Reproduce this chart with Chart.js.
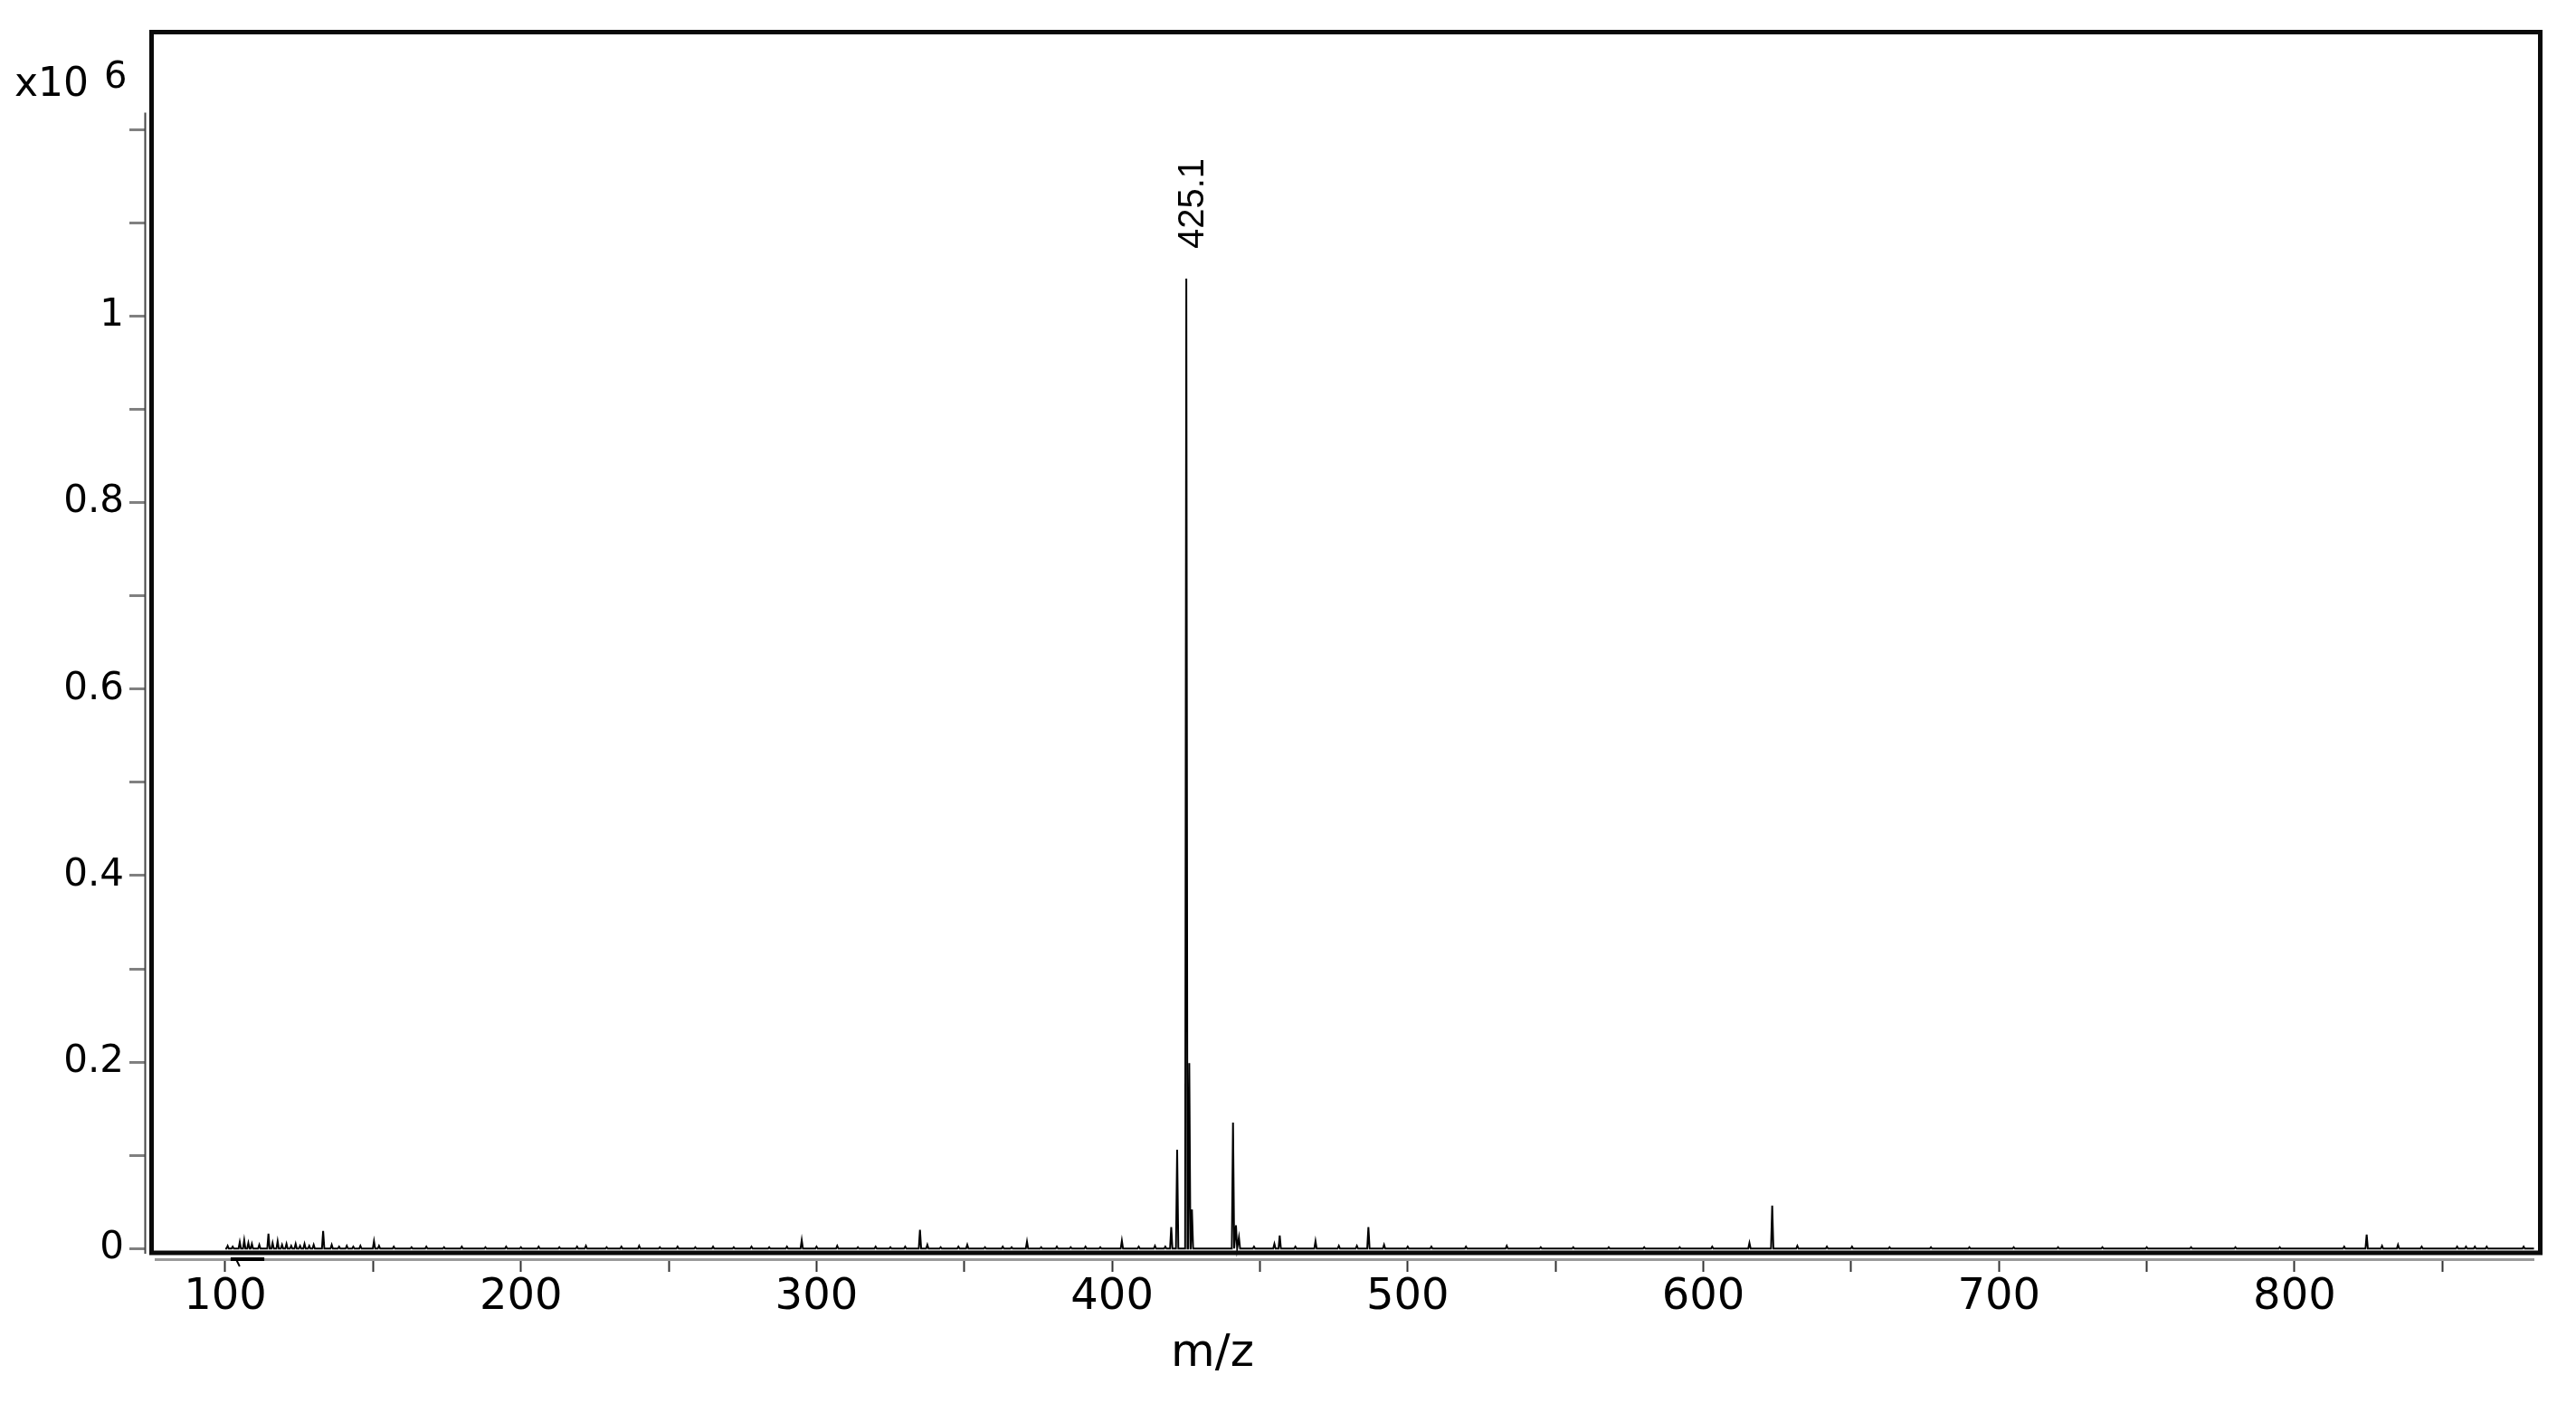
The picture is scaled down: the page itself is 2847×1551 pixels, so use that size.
<!DOCTYPE html>
<html>
<head>
<meta charset="utf-8">
<title>Mass spectrum</title>
<script src="https://cdn.jsdelivr.net/npm/chart.js@4.4.1/dist/chart.umd.min.js"></script>
<style>
  html, body { margin: 0; padding: 0; background: #fff; }
  #wrap { width: 2847px; height: 1551px; }
</style>
</head>
<body>
<div id="wrap"><canvas id="spectrum" width="2847" height="1551"></canvas></div>
<script>
// peaks: m/z and intensity (x10^6 counts)
var peakMz = [
  100.8, 102.5, 104.9, 106.4, 107.8, 109.0, 111.5, 114.6, 116.0, 117.7,
  119.2, 120.7, 122.3, 123.8, 125.3, 126.8, 128.4, 129.9, 133.1, 136.0,
  138.5, 141.1, 143.3, 145.7, 150.3, 152.0, 157, 163, 168, 174,
  180, 188, 195, 200, 206, 213, 219, 222, 229, 234,
  240, 247, 253, 259, 265, 272, 278, 284, 290, 295,
  300, 307, 314, 320, 325, 330, 335, 337.5, 342, 348,
  351, 357, 363, 366, 371.2, 376, 381.3, 386, 391, 396,
  403.3, 409, 414.5, 418, 420.0, 422.0, 425.1, 426.1, 427.0, 440.9,
  441.9, 442.9, 448, 454.9, 456.7, 462, 468.8, 476.7, 482.8, 486.7,
  492.0, 500, 508, 519.7, 533.5, 545, 556, 568, 580, 592,
  603, 615.6, 623.3, 631.8, 641.8, 650.3, 663, 677, 690, 705,
  720, 735, 750, 765, 780, 795, 816.8, 824.4, 829.6, 835.0,
  843.0, 855, 858, 861, 865, 877.5
];
var peakIntensity = [
  0.003, 0.002, 0.007, 0.009, 0.006, 0.005, 0.004, 0.016, 0.006, 0.008,
  0.004, 0.005, 0.003, 0.005, 0.003, 0.005, 0.003, 0.004, 0.019, 0.004,
  0.002, 0.003, 0.002, 0.003, 0.008, 0.003, 0.002, 0.0015, 0.002, 0.0015,
  0.002, 0.0015, 0.002, 0.0015, 0.002, 0.0015, 0.002, 0.003, 0.0015, 0.002,
  0.003, 0.0015, 0.002, 0.0015, 0.002, 0.0015, 0.002, 0.0015, 0.002, 0.009,
  0.002, 0.003, 0.0015, 0.002, 0.0015, 0.002, 0.020, 0.004, 0.0015, 0.002,
  0.004, 0.0015, 0.002, 0.0015, 0.0075, 0.0015, 0.002, 0.0015, 0.002, 0.0015,
  0.0085, 0.002, 0.003, 0.002, 0.023, 0.106, 1.040, 0.199, 0.042, 0.135,
  0.025, 0.012, 0.002, 0.005, 0.014, 0.002, 0.008, 0.003, 0.003, 0.023,
  0.004, 0.002, 0.002, 0.002, 0.003, 0.0015, 0.0015, 0.0015, 0.0015, 0.0015,
  0.002, 0.006, 0.046, 0.003, 0.002, 0.002, 0.0015, 0.0015, 0.0015, 0.0015,
  0.0015, 0.0015, 0.0015, 0.0015, 0.0015, 0.0015, 0.002, 0.015, 0.003, 0.004,
  0.002, 0.002, 0.002, 0.002, 0.002, 0.002
];
var scanRange = [100, 881];

var xTickValues = [100, 150, 200, 250, 300, 350, 400, 450, 500, 550, 600, 650, 700, 750, 800, 850];
var xTickLabels = ['100', '', '200', '', '300', '', '400', '', '500', '', '600', '', '700', '', '800', ''];
var yTickValues = [0, 0.1, 0.2, 0.3, 0.4, 0.5, 0.6, 0.7, 0.8, 0.9, 1.0, 1.1, 1.2];
var yTickLabels = ['0', '', '0.2', '', '0.4', '', '0.6', '', '0.8', '', '1', '', ''];

var xTitle = 'm/z';
var peakLabelMz = 425.1;
var peakLabelText = '425.1';

// profile: each peak as a narrow spike on the baseline
var halfWidth = 0.4;
var order = peakMz.map(function (m, i) { return i; }).sort(function (a, b) { return peakMz[a] - peakMz[b]; });
var points = [{ x: scanRange[0], y: 0 }];
order.forEach(function (i) {
  points.push({ x: peakMz[i] - halfWidth, y: 0 });
  points.push({ x: peakMz[i], y: peakIntensity[i] });
  points.push({ x: peakMz[i] + halfWidth, y: 0 });
});
points.push({ x: scanRange[1], y: 0 });

var font = '"DejaVu Sans", sans-serif';
var narrowFont = '"Liberation Sans", Arial, sans-serif';

// frame, detached axis lines, exponent, axis title and peak annotation
var decorations = {
  id: 'decorations',
  afterDraw: function (chart) {
    var ctx = chart.ctx, a = chart.chartArea;
    var xs = chart.scales.x, ys = chart.scales.y;
    ctx.save();

    // y axis line, starts a bit above the top tick
    ctx.strokeStyle = '#444';
    ctx.lineWidth = 2;
    ctx.beginPath();
    ctx.moveTo(a.left + 0.5, ys.getPixelForValue(1.218));
    ctx.lineTo(a.left + 0.5, a.bottom - 6);
    ctx.stroke();

    // x axis line under the frame
    ctx.strokeStyle = '#999';
    ctx.lineWidth = 3;
    ctx.beginPath();
    ctx.moveTo(a.left + 11, a.bottom + 0.5);
    ctx.lineTo(a.right - 6, a.bottom + 0.5);
    ctx.stroke();

    // small marker on the axis near m/z 100
    ctx.fillStyle = '#000';
    var m0 = xs.getPixelForValue(101.8), m1 = xs.getPixelForValue(113.2);
    ctx.fillRect(m0, a.bottom - 2, m1 - m0, 4);
    ctx.strokeStyle = '#000';
    ctx.lineWidth = 2;
    ctx.beginPath();
    ctx.moveTo(m0 + 6, a.bottom);
    ctx.lineTo(m0 + 10, a.bottom + 8);
    ctx.stroke();

    // plot frame
    ctx.strokeStyle = '#0a0a0a';
    ctx.lineWidth = 5;
    ctx.strokeRect(a.left + 7.5, a.top - 0.5, a.right - a.left - 7, a.bottom - a.top - 6.5);

    // exponent
    ctx.fillStyle = '#000';
    ctx.textAlign = 'left';
    ctx.textBaseline = 'alphabetic';
    ctx.font = '44px ' + font;
    ctx.fillText('x10', 16, 106);
    ctx.font = '40px ' + font;
    ctx.fillText('6', 115, 97);

    // x axis title
    ctx.textAlign = 'center';
    ctx.textBaseline = 'middle';
    ctx.font = '50px ' + font;
    ctx.fillText(xTitle, 1340, 1497);

    // annotation of the base peak
    var idx = peakMz.indexOf(peakLabelMz);
    var px = xs.getPixelForValue(peakLabelMz);
    var py = ys.getPixelForValue(peakIntensity[idx]);
    ctx.translate(px + 19, py - 33);
    ctx.rotate(-Math.PI / 2);
    ctx.textAlign = 'left';
    ctx.textBaseline = 'alphabetic';
    ctx.font = '40px ' + narrowFont;
    ctx.fillText(peakLabelText, 0, 0);

    ctx.restore();
  }
};

var ctx = document.getElementById('spectrum').getContext('2d');
var chart = new Chart(ctx, {
  type: 'line',
  data: {
    datasets: [{
      data: points,
      borderColor: '#000',
      borderWidth: 2,
      pointRadius: 0,
      tension: 0,
      fill: false
    }]
  },
  options: {
    responsive: false,
    animation: false,
    devicePixelRatio: 1,
    layout: { padding: { left: 0, top: 36, right: 40, bottom: 0 } },
    plugins: { legend: { display: false }, tooltip: { enabled: false } },
    scales: {
      x: {
        type: 'linear',
        min: 72.76,
        max: 882.97,
        afterBuildTicks: function (s) { s.ticks = xTickValues.map(function (v) { return { value: v }; }); },
        afterFit: function (s) { s.height = 159; },
        border: { display: false },
        grid: { drawOnChartArea: false, drawTicks: true, tickLength: 14, tickWidth: 2, tickColor: '#333' },
        ticks: {
          autoSkip: false, maxRotation: 0, padding: 0, color: '#000',
          font: { family: font, size: 48 },
          callback: function (v, i) { return xTickLabels[i]; }
        }
      },
      y: {
        type: 'linear',
        min: -0.01135,
        max: 1.3039,
        afterBuildTicks: function (s) { s.ticks = yTickValues.map(function (v) { return { value: v }; }); },
        afterFit: function (s) { s.width = 160; },
        border: { display: false },
        grid: { drawOnChartArea: false, drawTicks: true, tickLength: 17, tickWidth: 3, tickColor: '#808080' },
        ticks: {
          autoSkip: false, padding: 6, color: '#000',
          font: { family: font, size: 42 },
          callback: function (v, i) { return yTickLabels[i]; }
        }
      }
    }
  },
  plugins: [decorations]
});
</script>
</body>
</html>
